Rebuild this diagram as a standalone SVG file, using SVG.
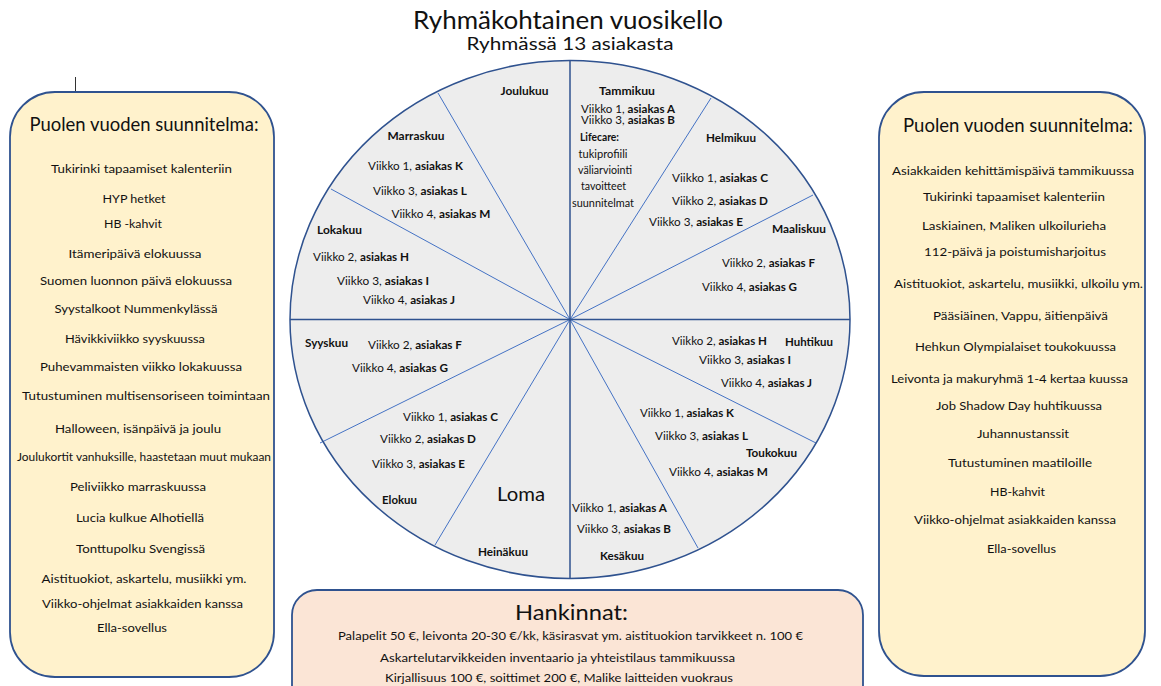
<svg xmlns="http://www.w3.org/2000/svg" width="1161" height="686" viewBox="0 0 1161 686">
<style>
text{font-family:Lato,"Open Sans","Liberation Sans",sans-serif;fill:#111;text-anchor:middle}
.t{font-size:12px}
.m{font-size:11px;font-weight:bold}
.s{font-size:10.5px}
.b{font-weight:bold}
.h{font-size:20px}
.panel{fill:#FFF2CC;stroke:#2F528F;stroke-width:1.8}
.buy{fill:#FBE5D6;stroke:#2F528F;stroke-width:1.8}
.axis{stroke:#2F528F;stroke-width:1.5;fill:none}
.ray{stroke:#4472C4;stroke-width:1;fill:none}
</style>
<rect width="1161" height="686" fill="#fff"/>
<line x1="75.5" y1="77" x2="75.5" y2="95" stroke="#333" stroke-width="1"/>
<g id="title">
<text x="568" y="29" font-size="25" textLength="310" lengthAdjust="spacingAndGlyphs">Ryhmäkohtainen vuosikello</text>
<text x="570" y="50" font-size="17" textLength="207" lengthAdjust="spacingAndGlyphs">Ryhmässä 13 asiakasta</text>
</g>
<g id="left-panel">
<rect class="panel" x="10" y="92" width="264" height="585" rx="45"/>
<text class="h" x="144" y="131" textLength="229" lengthAdjust="spacingAndGlyphs">Puolen vuoden suunnitelma:</text>
<text class="t" x="141.5" y="173" textLength="181" lengthAdjust="spacingAndGlyphs">Tukirinki tapaamiset kalenteriin</text>
<text class="t" x="134" y="203" textLength="63" lengthAdjust="spacingAndGlyphs">HYP hetket</text>
<text class="t" x="133" y="228" textLength="58" lengthAdjust="spacingAndGlyphs">HB -kahvit</text>
<text class="t" x="135" y="258" textLength="133" lengthAdjust="spacingAndGlyphs">Itämeripäivä elokuussa</text>
<text class="t" x="136" y="285" textLength="192" lengthAdjust="spacingAndGlyphs">Suomen luonnon päivä elokuussa</text>
<text class="t" x="136" y="313" textLength="163" lengthAdjust="spacingAndGlyphs">Syystalkoot Nummenkylässä</text>
<text class="t" x="135" y="343" textLength="140" lengthAdjust="spacingAndGlyphs">Hävikkiviikko syyskuussa</text>
<text class="t" x="141" y="371" textLength="202" lengthAdjust="spacingAndGlyphs">Puhevammaisten viikko lokakuussa</text>
<text class="t" x="146" y="400" textLength="248" lengthAdjust="spacingAndGlyphs">Tutustuminen multisensoriseen toimintaan</text>
<text class="t" x="138" y="433" textLength="166" lengthAdjust="spacingAndGlyphs">Halloween, isänpäivä ja joulu</text>
<text class="t" x="144" y="461" textLength="254" lengthAdjust="spacingAndGlyphs">Joulukortit vanhuksille, haastetaan muut mukaan</text>
<text class="t" x="138" y="491" textLength="136" lengthAdjust="spacingAndGlyphs">Peliviikko marraskuussa</text>
<text class="t" x="140" y="522" textLength="128" lengthAdjust="spacingAndGlyphs">Lucia kulkue Alhotiellä</text>
<text class="t" x="140.5" y="553" textLength="129" lengthAdjust="spacingAndGlyphs">Tonttupolku Svengissä</text>
<text class="t" x="144" y="583" textLength="205" lengthAdjust="spacingAndGlyphs">Aistituokiot, askartelu, musiikki ym.</text>
<text class="t" x="142.5" y="608" textLength="201" lengthAdjust="spacingAndGlyphs">Viikko-ohjelmat asiakkaiden kanssa</text>
<text class="t" x="132" y="632" textLength="70" lengthAdjust="spacingAndGlyphs">Ella-sovellus</text>
</g>
<g id="right-panel">
<rect class="panel" x="879" y="92" width="266" height="584" rx="45"/>
<text class="h" x="1018" y="132" textLength="230" lengthAdjust="spacingAndGlyphs">Puolen vuoden suunnitelma:</text>
<text class="t" x="1013" y="175" textLength="242" lengthAdjust="spacingAndGlyphs">Asiakkaiden kehittämispäivä tammikuussa</text>
<text class="t" x="1014" y="201" textLength="182" lengthAdjust="spacingAndGlyphs">Tukirinki tapaamiset kalenteriin</text>
<text class="t" x="1014" y="230" textLength="184" lengthAdjust="spacingAndGlyphs">Laskiainen, Maliken ulkoilurieha</text>
<text class="t" x="1015" y="256" textLength="182" lengthAdjust="spacingAndGlyphs">112-päivä ja poistumisharjoitus</text>
<text class="t" x="1018.5" y="288" textLength="249" lengthAdjust="spacingAndGlyphs">Aistituokiot, askartelu, musiikki, ulkoilu ym.</text>
<text class="t" x="1020.5" y="320" textLength="175" lengthAdjust="spacingAndGlyphs">Pääsiäinen, Vappu, äitienpäivä</text>
<text class="t" x="1015.5" y="351" textLength="201" lengthAdjust="spacingAndGlyphs">Hehkun Olympialaiset toukokuussa</text>
<text class="t" x="1009.5" y="383" textLength="237" lengthAdjust="spacingAndGlyphs">Leivonta ja makuryhmä 1-4 kertaa kuussa</text>
<text class="t" x="1019" y="410" textLength="166" lengthAdjust="spacingAndGlyphs">Job Shadow Day huhtikuussa</text>
<text class="t" x="1023" y="438" textLength="92" lengthAdjust="spacingAndGlyphs">Juhannustanssit</text>
<text class="t" x="1020" y="467" textLength="144" lengthAdjust="spacingAndGlyphs">Tutustuminen maatiloille</text>
<text class="t" x="1017.5" y="496" textLength="55" lengthAdjust="spacingAndGlyphs">HB-kahvit</text>
<text class="t" x="1015" y="524" textLength="202" lengthAdjust="spacingAndGlyphs">Viikko-ohjelmat asiakkaiden kanssa</text>
<text class="t" x="1021.5" y="553" textLength="69" lengthAdjust="spacingAndGlyphs">Ella-sovellus</text>
</g>
<g id="hankinnat">
<rect class="buy" x="292" y="590" width="571" height="130" rx="25"/>
<text x="571.5" y="620" font-size="22" textLength="113" lengthAdjust="spacingAndGlyphs">Hankinnat:</text>
<text class="t" x="570.5" y="640" textLength="465" lengthAdjust="spacingAndGlyphs">Palapelit 50 €, leivonta 20-30 €/kk, käsirasvat ym. aistituokion tarvikkeet n. 100 €</text>
<text class="t" x="557.5" y="662" textLength="355" lengthAdjust="spacingAndGlyphs">Askartelutarvikkeiden inventaario ja yhteistilaus tammikuussa</text>
<text class="t" x="559" y="682" textLength="348" lengthAdjust="spacingAndGlyphs">Kirjallisuus 100 €, soittimet 200 €, Malike laitteiden vuokraus</text>
</g>
<g id="wheel">
<ellipse cx="570" cy="319.5" rx="280" ry="259" fill="#EDEDED"/>
</g>
<g id="connectors">
<line class="ray" x1="570" y1="319.5" x2="438" y2="93"/>
<line class="ray" x1="570" y1="319.5" x2="331" y2="189"/>
<line class="ray" x1="570" y1="319.5" x2="711" y2="98"/>
<line class="ray" x1="570" y1="319.5" x2="813" y2="195"/>
<line class="ray" x1="570" y1="319.5" x2="320" y2="443"/>
<line class="ray" x1="570" y1="319.5" x2="435" y2="545"/>
<line class="ray" x1="570" y1="319.5" x2="816" y2="443"/>
<line class="ray" x1="570" y1="319.5" x2="698" y2="548"/>
<line class="axis" x1="290" y1="319.5" x2="850" y2="319.5"/>
<line class="axis" x1="570" y1="60.5" x2="570" y2="578.5"/>
<ellipse class="axis" cx="570" cy="319.5" rx="280" ry="259"/>
</g>
<g id="tammikuu">
<text class="m" x="627" y="95" textLength="56" lengthAdjust="spacingAndGlyphs">Tammikuu</text>
<text x="628" y="112.5" font-size="11" textLength="94" lengthAdjust="spacingAndGlyphs">Viikko 1, <tspan class="b">asiakas A</tspan></text>
<text x="628" y="124" font-size="11" textLength="94" lengthAdjust="spacingAndGlyphs">Viikko 3, <tspan class="b">asiakas B</tspan></text>
<text class="s b" x="599.5" y="141" textLength="39" lengthAdjust="spacingAndGlyphs">Lifecare:</text>
<text class="s" x="603" y="158" textLength="49" lengthAdjust="spacingAndGlyphs">tukiprofiili</text>
<text class="s" x="605" y="174" textLength="54" lengthAdjust="spacingAndGlyphs">väliarviointi</text>
<text class="s" x="603.5" y="190" textLength="45" lengthAdjust="spacingAndGlyphs">tavoitteet</text>
<text class="s" x="603" y="207" textLength="62" lengthAdjust="spacingAndGlyphs">suunnitelmat</text>
</g>
<g id="helmikuu">
<text class="m" x="731" y="142" textLength="50" lengthAdjust="spacingAndGlyphs">Helmikuu</text>
<text class="t" x="720" y="182" textLength="96" lengthAdjust="spacingAndGlyphs">Viikko 1, <tspan class="b">asiakas C</tspan></text>
<text class="t" x="720" y="205" textLength="96" lengthAdjust="spacingAndGlyphs">Viikko 2, <tspan class="b">asiakas D</tspan></text>
<text class="t" x="696" y="226" textLength="94" lengthAdjust="spacingAndGlyphs">Viikko 3, <tspan class="b">asiakas E</tspan></text>
</g>
<g id="maaliskuu">
<text class="m" x="799" y="233" textLength="54" lengthAdjust="spacingAndGlyphs">Maaliskuu</text>
<text class="t" x="768.5" y="267" textLength="93" lengthAdjust="spacingAndGlyphs">Viikko 2, <tspan class="b">asiakas F</tspan></text>
<text class="t" x="749.5" y="291" textLength="95" lengthAdjust="spacingAndGlyphs">Viikko 4, <tspan class="b">asiakas G</tspan></text>
</g>
<g id="huhtikuu">
<text class="m" x="809" y="346" textLength="48" lengthAdjust="spacingAndGlyphs">Huhtikuu</text>
<text class="t" x="719.5" y="345" textLength="95" lengthAdjust="spacingAndGlyphs">Viikko 2, <tspan class="b">asiakas H</tspan></text>
<text class="t" x="745" y="364" textLength="92" lengthAdjust="spacingAndGlyphs">Viikko 3, <tspan class="b">asiakas I</tspan></text>
<text class="t" x="766.5" y="387" textLength="91" lengthAdjust="spacingAndGlyphs">Viikko 4, <tspan class="b">asiakas J</tspan></text>
</g>
<g id="toukokuu">
<text class="t" x="687" y="417" textLength="94" lengthAdjust="spacingAndGlyphs">Viikko 1, <tspan class="b">asiakas K</tspan></text>
<text class="t" x="701.5" y="440" textLength="93" lengthAdjust="spacingAndGlyphs">Viikko 3, <tspan class="b">asiakas L</tspan></text>
<text class="m" x="771.5" y="457" textLength="51" lengthAdjust="spacingAndGlyphs">Toukokuu</text>
<text class="t" x="718.5" y="476" textLength="99" lengthAdjust="spacingAndGlyphs">Viikko 4, <tspan class="b">asiakas M</tspan></text>
</g>
<g id="kesakuu">
<text class="t" x="619.5" y="512" textLength="95" lengthAdjust="spacingAndGlyphs">Viikko 1, <tspan class="b">asiakas A</tspan></text>
<text class="t" x="624" y="533" textLength="94" lengthAdjust="spacingAndGlyphs">Viikko 3, <tspan class="b">asiakas B</tspan></text>
<text class="m" x="622" y="560" textLength="44" lengthAdjust="spacingAndGlyphs">Kesäkuu</text>
</g>
<g id="heinakuu">
<text x="521" y="501" font-size="20" textLength="48" lengthAdjust="spacingAndGlyphs">Loma</text>
<text class="m" x="503" y="556" textLength="50" lengthAdjust="spacingAndGlyphs">Heinäkuu</text>
</g>
<g id="elokuu">
<text class="t" x="450.5" y="421" textLength="95" lengthAdjust="spacingAndGlyphs">Viikko 1, <tspan class="b">asiakas C</tspan></text>
<text class="t" x="428" y="443" textLength="96" lengthAdjust="spacingAndGlyphs">Viikko 2, <tspan class="b">asiakas D</tspan></text>
<text class="t" x="418.5" y="468" textLength="93" lengthAdjust="spacingAndGlyphs">Viikko 3, <tspan class="b">asiakas E</tspan></text>
<text class="m" x="399.5" y="504" textLength="35" lengthAdjust="spacingAndGlyphs">Elokuu</text>
</g>
<g id="syyskuu">
<text class="m" x="326.5" y="347" textLength="43" lengthAdjust="spacingAndGlyphs">Syyskuu</text>
<text class="t" x="415" y="349" textLength="94" lengthAdjust="spacingAndGlyphs">Viikko 2, <tspan class="b">asiakas F</tspan></text>
<text class="t" x="400" y="372" textLength="96" lengthAdjust="spacingAndGlyphs">Viikko 4, <tspan class="b">asiakas G</tspan></text>
</g>
<g id="lokakuu">
<text class="m" x="339.5" y="234" textLength="45" lengthAdjust="spacingAndGlyphs">Lokakuu</text>
<text class="t" x="361" y="261" textLength="96" lengthAdjust="spacingAndGlyphs">Viikko 2, <tspan class="b">asiakas H</tspan></text>
<text class="t" x="383" y="285" textLength="92" lengthAdjust="spacingAndGlyphs">Viikko 3, <tspan class="b">asiakas I</tspan></text>
<text class="t" x="409" y="304" textLength="92" lengthAdjust="spacingAndGlyphs">Viikko 4, <tspan class="b">asiakas J</tspan></text>
</g>
<g id="marraskuu">
<text class="m" x="416" y="140" textLength="57" lengthAdjust="spacingAndGlyphs">Marraskuu</text>
<text class="t" x="415.5" y="170" textLength="95" lengthAdjust="spacingAndGlyphs">Viikko 1, <tspan class="b">asiakas K</tspan></text>
<text class="t" x="420" y="195" textLength="94" lengthAdjust="spacingAndGlyphs">Viikko 3, <tspan class="b">asiakas L</tspan></text>
<text class="t" x="441" y="218" textLength="99" lengthAdjust="spacingAndGlyphs">Viikko 4, <tspan class="b">asiakas M</tspan></text>
</g>
<g id="joulukuu">
<text class="m" x="524.5" y="95" textLength="48" lengthAdjust="spacingAndGlyphs">Joulukuu</text>
</g>
</svg>
